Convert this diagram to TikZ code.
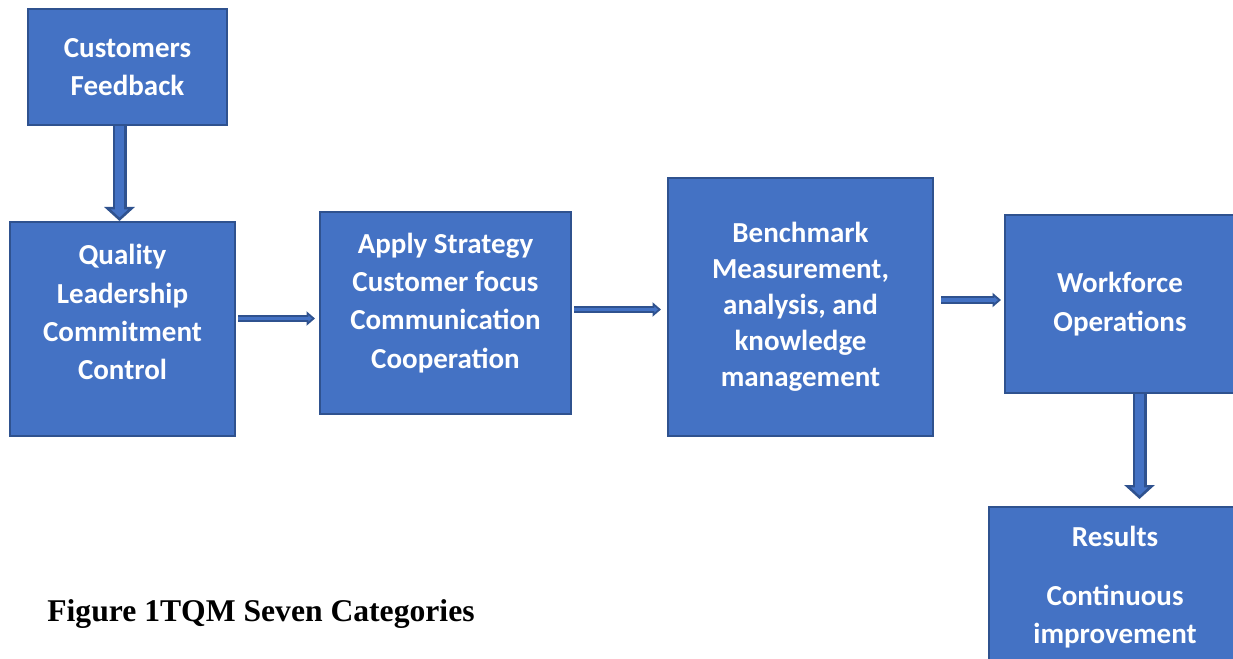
\documentclass[tikz,border=0pt]{standalone}
\usepackage{fontspec}
\setmainfont{Liberation Serif}
\newfontfamily\boxfont{Carlito}
\usetikzlibrary{arrows.meta}

\definecolor{boxfill}{HTML}{4472C4}
\definecolor{boxline}{HTML}{2F528F}

\tikzset{
	box/.style={draw=boxline, line width=0.04cm, fill=boxfill, text=white, align=center, inner sep=0pt,
		font=\boxfont\bfseries\fontsize{16.5}{21.8}\selectfont},
	vflow/.style={draw=boxline, line width=0.28cm, shorten >=#1, -{Triangle[width=0.6cm,length=0.28cm]},
		postaction={draw=boxfill, line width=0.17cm, shorten >=#1+0.071cm, -{Triangle[width=0.33cm,length=0.16cm]}}},
	vflow/.default=0cm,
	hflow/.style={draw=boxline, line width=0.15cm, shorten >=#1, -{Triangle[width=0.28cm,length=0.17cm]},
		postaction={draw=boxfill, line width=0.07cm, shorten >=#1+0.063cm, -{Triangle[width=0.12cm,length=0.07cm]}}},
	hflow/.default=0cm
}

\begin{document}
\begin{tikzpicture}
	\useasboundingbox (0,0) rectangle (24.66,13.16);
	\clip (0,0) rectangle (24.66,13.16);
	
	\node[box, minimum width=3.98cm, minimum height=2.32cm] (cf) at (2.55,11.82) {Customers\\Feedback};
	\node[box, minimum width=4.50cm, minimum height=4.28cm, text depth=0.68cm] (ql) at (2.45,6.58) {Quality\\Leadership\\Commitment\\Control};
	\node[box, minimum width=5.02cm, minimum height=4.02cm, text depth=0.5cm] (as) at (8.91,6.90) {Apply Strategy\\Customer focus\\Communication\\Cooperation};
	\node[box, minimum width=5.30cm, minimum height=5.16cm, text depth=0.1cm, font=\boxfont\bfseries\fontsize{16.5}{20.5}\selectfont] (bm) at (16.01,7.02) {Benchmark\\Measurement,\\analysis, and\\knowledge\\management};
	\node[box, minimum width=4.60cm, minimum height=3.56cm] (wo) at (22.40,7.08) {Workforce\\Operations};
	\node[box, minimum width=5.04cm, minimum height=3.20cm] (rs) at (22.30,1.42) {Results\\[0.42cm]Continuous\\improvement};
	
	\node[anchor=base west, inner sep=0pt, font=\bfseries\fontsize{18}{21}\selectfont] (cap) at (0.94,0.74) {Figure 1TQM Seven Categories};
	
	% block arrows between the boxes
	\coordinate (a1) at ([xshift=-0.16cm]cf.south);
	\coordinate (a2) at ([xshift=0.04cm, yshift=0.21cm]ql.east);
	\coordinate (a3) at ([xshift=0.04cm, yshift=0.07cm]as.east);
	\coordinate (a4) at ([xshift=0.14cm, yshift=0.14cm]bm.east);
	\coordinate (a5) at ([xshift=0.39cm]wo.south);
	
	\draw[vflow] (a1) -- (a1 |- ql.north);
	\draw[hflow=0.08cm] (a2) -- (a2 -| as.west);
	\draw[hflow=0.12cm] (a3) -- (a3 -| bm.west);
	\draw[hflow=0.06cm] (a4) -- (a4 -| wo.west);
	\draw[vflow=0.14cm] (a5) -- (a5 |- rs.north);
	
\end{tikzpicture}
\end{document}
